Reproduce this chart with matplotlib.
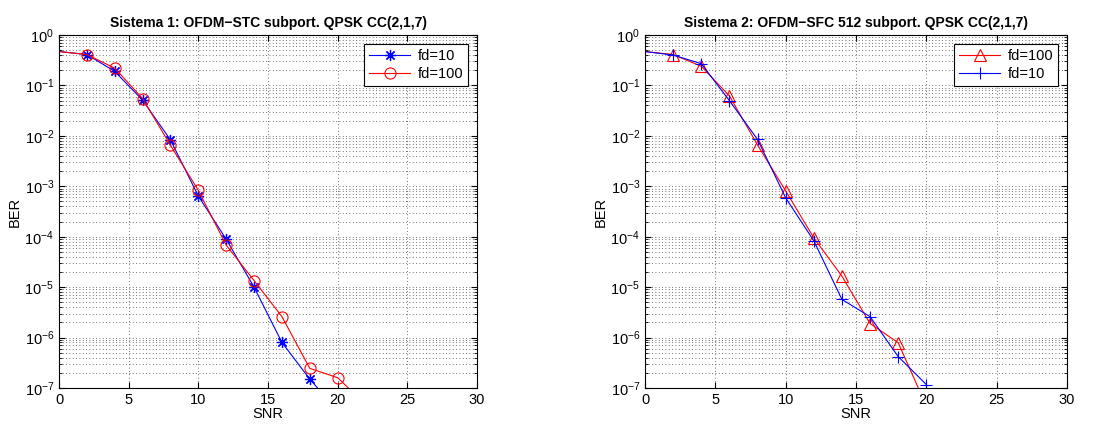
import matplotlib
matplotlib.use("Agg")
import matplotlib.pyplot as plt
import numpy as np
from matplotlib.ticker import LogLocator, NullFormatter

plt.rcParams['font.family'] = ['Liberation Sans', 'DejaVu Sans']
plt.rcParams['mathtext.fontset'] = 'custom'
plt.rcParams['mathtext.rm'] = 'Liberation Sans'
plt.rcParams['mathtext.it'] = 'Liberation Sans'

# ---- data ----
snr1_fd10 = [-2, 2, 4, 6, 8, 10, 12, 14, 16, 18, 20]
ber1_fd10 = [0.54, 0.41, 0.19, 0.051, 0.0083, 6.4e-4, 8.9e-5, 1.0e-5, 8.0e-7, 1.5e-7, 3.5e-8]
snr1_fd100 = [-2, 2, 4, 6, 8, 10, 12, 14, 16, 18, 20, 22]
ber1_fd100 = [0.54, 0.41, 0.22, 0.055, 0.0065, 8.3e-4, 6.8e-5, 1.35e-5, 2.6e-6, 2.45e-7, 1.6e-7, 4.7e-8]

snr2_fd100 = [-2, 2, 4, 6, 8, 10, 12, 14, 16, 18, 20]
ber2_fd100 = [0.54, 0.41, 0.24, 0.062, 0.0066, 8.1e-4, 9.5e-5, 1.65e-5, 1.9e-6, 7.9e-7, 4.4e-8]
snr2_fd10 = [-2, 2, 4, 6, 8, 10, 12, 14, 16, 18, 20]
ber2_fd10 = [0.55, 0.40, 0.27, 0.050, 0.0085, 5.9e-4, 8.3e-5, 5.7e-6, 2.6e-6, 4.2e-7, 1.17e-7]

titles = ["Sistema 1: OFDM\u2212STC subport. QPSK CC(2,1,7)",
          "Sistema 2: OFDM\u2212SFC 512 subport. QPSK CC(2,1,7)"]
xticks = [0, 5, 10, 15, 20, 25, 30]
ydecades = [0, -1, -2, -3, -4, -5, -6, -7]

fig = plt.figure(figsize=(11.13, 4.28), dpi=100)
ax1 = fig.add_axes([59/1113, 1-388/428, 418/1113, 353/428])
ax2 = fig.add_axes([645/1113, 1-388/428, 422/1113, 353/428])

ast = (8, 2, 0)
ax1.semilogy(snr1_fd10, ber1_fd10, color=(0, 0, 1), marker=ast, lw=0.8,
             markersize=8, markeredgewidth=0.9, label='fd=10')
ax1.semilogy(snr1_fd100, ber1_fd100, color=(1, 0, 0), marker='o', lw=0.8,
             markersize=8, markerfacecolor='none', markeredgewidth=0.8, label='fd=100')

ax2.semilogy(snr2_fd100, ber2_fd100, color=(1, 0, 0), marker='^', lw=0.8,
             markersize=9, markerfacecolor='none', markeredgewidth=0.8, label='fd=100')
ax2.semilogy(snr2_fd10, ber2_fd10, color=(0, 0, 1), marker='+', lw=0.8,
             markersize=9, markeredgewidth=0.8, label='fd=10')

for ax, t in zip([ax1, ax2], titles):
    ax.set_xlim(0, 30)
    ax.set_ylim(1e-7, 1)
    ax.set_xticks(xticks)
    ax.set_xticklabels([str(v) for v in xticks])
    ax.set_yticks([10.0**d for d in ydecades])
    ax.set_yticklabels([r'$10^{%d}$' % d for d in ydecades])
    ax.yaxis.set_minor_locator(LogLocator(base=10, subs=np.arange(2, 10), numticks=20))
    ax.yaxis.set_minor_formatter(NullFormatter())
    ax.tick_params(which='both', direction='in', top=True, right=True, labelsize=10.5)
    ax.tick_params(which='major', length=4)
    ax.tick_params(which='minor', length=2)
    ax.grid(True, which='major', axis='both', linestyle=(0, (1, 3)), color='#444444', lw=0.6)
    ax.grid(True, which='minor', axis='y', linestyle=(0, (1, 3)), color='#444444', lw=0.6)
    ax.set_xlabel('SNR', fontsize=10.5, labelpad=0)
    ax.set_ylabel('BER', fontsize=10.5, labelpad=2)
    ax.set_title(t, fontsize=10, fontweight='bold', pad=6)
    for s in ax.spines.values():
        s.set_linewidth(0.8)
    leg = ax.legend(loc='upper right', fontsize=10.5, fancybox=False, framealpha=1,
                    edgecolor='black', borderaxespad=0.6, handlelength=2.8,
                    labelspacing=0.3, borderpad=0.35, handletextpad=0.5)
    leg.get_frame().set_linewidth(0.8)

fig.savefig('out.png', dpi=100)
